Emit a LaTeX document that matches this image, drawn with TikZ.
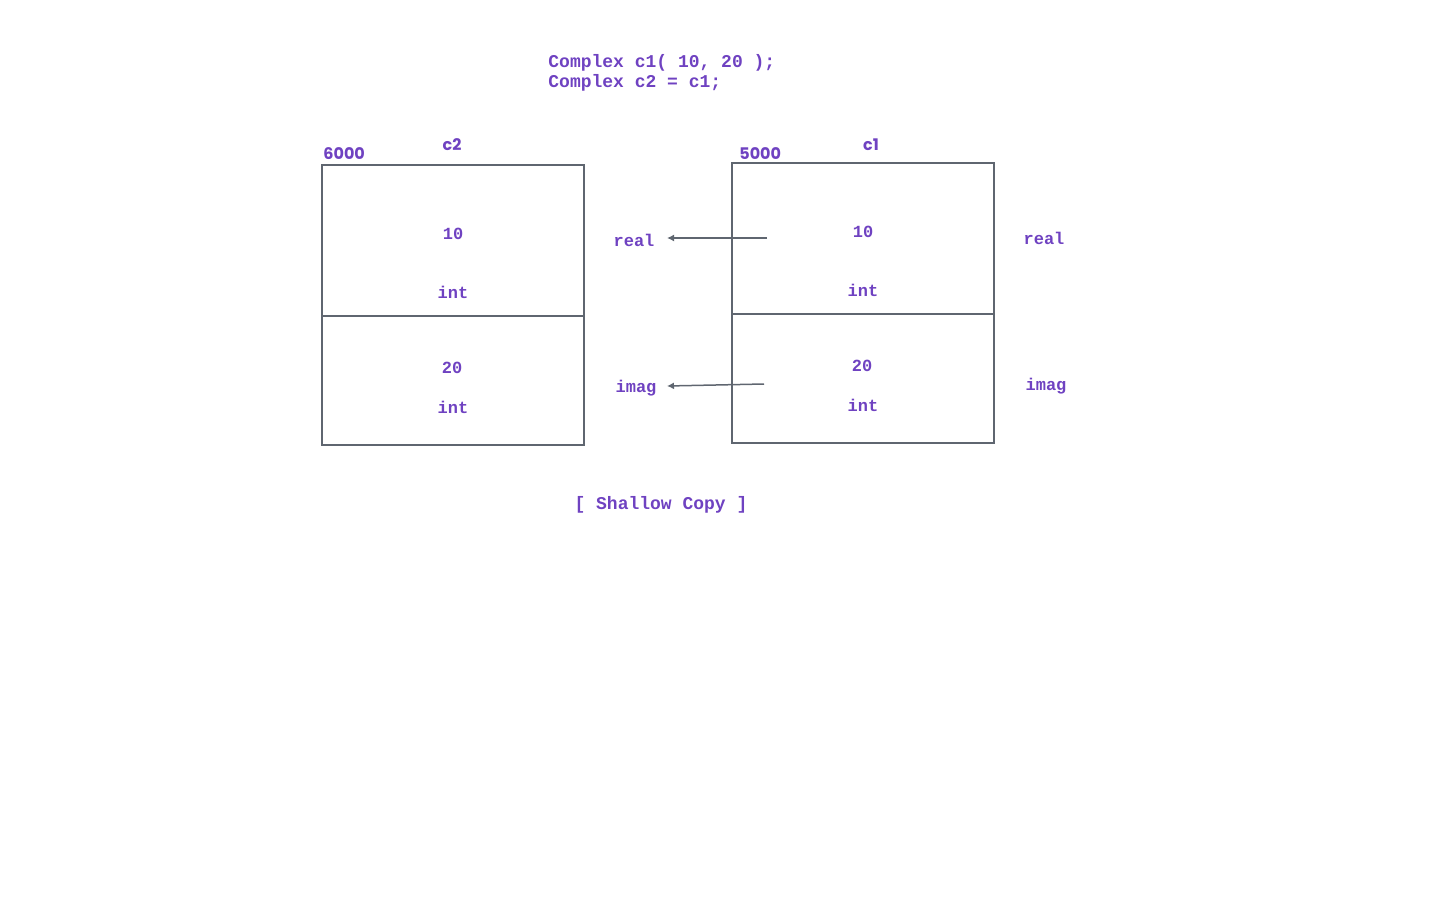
\documentclass[tikz,border=0pt]{standalone}
\usepackage{fontspec}
\setmonofont{Liberation Mono}
\setsansfont{Poppins}
\definecolor{codepurple}{RGB}{111,66,193}
\definecolor{boxgray}{RGB}{95,102,112}
\usetikzlibrary{arrows.meta}
\tikzset{
  cell/.style={draw=boxgray, line width=1pt, minimum width=131pt, inner sep=0pt, outer sep=0pt, anchor=north west},
  monotext/.style={text=codepurple, font=\ttfamily\bfseries\fontsize{8.5}{10}\selectfont, inner sep=1pt, anchor=base},
  bigmono/.style={monotext, font=\ttfamily\bfseries\fontsize{9}{10}\selectfont},
  addrtext/.style={text=codepurple, font=\sffamily\bfseries\fontsize{8}{10}\selectfont, inner sep=1pt, anchor=base},
  pointer/.style={-{Latex[length=3.5pt, width=3.5pt]}, draw=boxgray, line width=0.75pt}
}

\begin{document}
\begin{tikzpicture}[x=0.5pt, y=-0.5pt]
  \useasboundingbox (0,0) rectangle (1440,900);
  \node[bigmono, anchor=base west] (code1) at (546,67) {Complex c1( 10, 20 );};
  \node[bigmono, anchor=base west] (code2) at (546,87) {Complex c2 = c1;};

  \node[cell, minimum height=75.5pt] (c2real) at (322,165) {};
  \node[cell, minimum height=64.5pt] (c2imag) at (c2real.south west) {};
  \node[addrtext, anchor=base west] (addr2) at (321,159) {6000};
  \node[addrtext] (name2) at (452,150.5) {c2};
  \node[monotext] (c2v1) at (453,239) {10};
  \node[monotext] (c2t1) at (453,298) {int};
  \node[monotext] (c2v2) at (452,373) {20};
  \node[monotext] (c2t2) at (453,413) {int};

  \node[cell, minimum height=75.5pt] (c1real) at (732,163) {};
  \node[cell, minimum height=64.5pt] (c1imag) at (c1real.south west) {};
  \node[addrtext, anchor=base west] (addr1) at (737,159) {5000};
  \node[addrtext] (name1) at (871,150.5) {c1};
  \node[monotext] (c1v1) at (863,237) {10};
  \node[monotext] (c1t1) at (863,296) {int};
  \node[monotext] (c1v2) at (862,371) {20};
  \node[monotext] (c1t2) at (863,411) {int};

  \node[monotext] (real2) at (634,246) {real};
  \node[monotext] (imag2) at (636,392) {imag};
  \node[monotext] (real1) at (1044,244) {real};
  \node[monotext] (imag1) at (1046,390) {imag};

  \coordinate (fromreal) at (767,238);
  \coordinate (fromimag) at (764,384);
  \coordinate (toreal) at (667,238);
  \coordinate (toimag) at (667,386);
  \draw[pointer] (fromreal) -- (toreal);
  \draw[pointer] (fromimag) -- (toimag);

  \node[bigmono] (caption) at (661,509) {[ Shallow Copy ]};
\end{tikzpicture}
\end{document}
